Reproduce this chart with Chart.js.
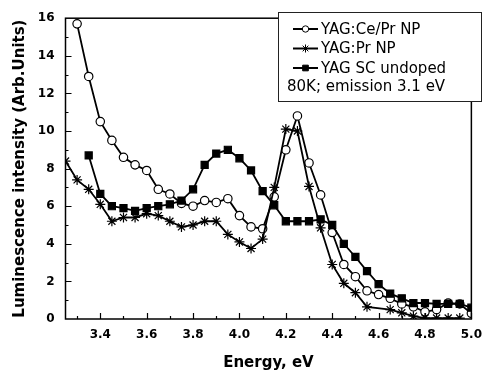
<!DOCTYPE html>
<html>
<head>
<meta charset="utf-8">
<script src="https://cdn.jsdelivr.net/npm/chart.js@4.4.0/dist/chart.umd.min.js"></script>
<style>
  html, body { margin: 0; padding: 0; background: #fff; }
  #wrap { width: 491px; height: 376px; }
</style>
</head>
<body>
<div id="wrap"><canvas id="lumChart"></canvas></div>
<script>
// Excitation spectra, values
const energies = [3.25, 3.30, 3.35, 3.40, 3.45, 3.50, 3.55, 3.60, 3.65, 3.70, 3.75, 3.80,
                  3.85, 3.90, 3.95, 4.00, 4.05, 4.10, 4.15, 4.20, 4.25, 4.30, 4.35, 4.40,
                  4.45, 4.50, 4.55, 4.60, 4.65, 4.70, 4.75, 4.80, 4.85, 4.90, 4.95, 5.00];

const cePrNP = [null, 15.7, 12.9, 10.5, 9.5, 8.6, 8.2, 7.9, 6.9, 6.65, 6.15, 6.0,
                6.3, 6.2, 6.4, 5.5, 4.9, 4.8, 6.5, 9.0, 10.8, 8.3, 6.6, 4.6,
                2.9, 2.25, 1.5, 1.3, 1.1, 0.8, 0.65, 0.38, 0.5, 0.85, 0.8, 0.3];

const prNP = [8.4, 7.4, 6.9, 6.1, 5.2, 5.4, 5.4, 5.6, 5.5, 5.2, 4.9, 5.0,
              5.2, 5.2, 4.5, 4.1, 3.75, 4.25, 7.0, 10.1, 10.0, 7.05, 4.85, 2.9,
              1.9, 1.4, 0.65, null, 0.5, 0.33, 0.15, 0.05, 0.05, 0.05, 0.05, null];

const scUndoped = [null, null, 8.7, 6.65, 6.0, 5.9, 5.75, 5.9, 6.0, 6.1, 6.3, 6.9,
                   8.2, 8.8, 9.0, 8.55, 7.9, 6.8, 6.05, 5.2, 5.2, 5.2, 5.3, 5.0,
                   4.0, 3.3, 2.55, 1.85, 1.35, 1.1, 0.85, 0.85, 0.8, 0.8, 0.8, 0.6];

const xTickValues = [3.4, 3.6, 3.8, 4.0, 4.2, 4.4, 4.6, 4.8, 5.0];
const seriesNames = ['YAG:Ce/Pr NP', 'YAG:Pr NP', 'YAG SC undoped'];
const legendNote = '80K; emission 3.1 eV';

const toPoints = vals => energies.map((e, i) => ({ x: e, y: vals[i] }));

Chart.defaults.font.family = 'DejaVu Sans';
Chart.defaults.color = '#000';

const markers = [
    { pointStyle: 'circle', radius: 4.2, fill: '#fff' },
    { pointStyle: 'star', radius: 5, fill: '#000' },
    { pointStyle: 'rect', radius: 5, fill: '#000' }
];

function makeDataset(label, vals, m) {
    return {
        label: label,
        data: toPoints(vals),
        borderColor: '#000',
        borderWidth: 1.8,
        pointStyle: m.pointStyle,
        pointRadius: m.radius,
        pointBackgroundColor: m.fill,
        pointBorderColor: '#000',
        pointBorderWidth: 1.2,
        spanGaps: true,
        tension: 0
    };
}

// box frame, inward ticks and the boxed legend
const framePlugin = {
    id: 'frame',
    afterDraw(chart) {
        const { ctx, chartArea: a, scales } = chart;
        const xs = scales.x, ys = scales.y;
        ctx.save();
        ctx.strokeStyle = '#000';
        ctx.lineWidth = 1.5;
        ctx.strokeRect(a.left, a.top, a.right - a.left, a.bottom - a.top);

        ctx.lineWidth = 1.2;
        ctx.beginPath();
        for (let k = 0; k <= 17; k++) {
            const v = 3.3 + k * 0.1;
            const major = k % 2 === 1;
            const px = Math.round(xs.getPixelForValue(v)) + 0.5;
            ctx.moveTo(px, a.bottom);
            ctx.lineTo(px, a.bottom - (major ? 6 : 3));
        }
        for (let v = 1; v < 16; v++) {
            const py = Math.round(ys.getPixelForValue(v)) + 0.5;
            ctx.moveTo(a.left, py);
            ctx.lineTo(a.left + (v % 2 === 0 ? 6 : 3), py);
        }
        ctx.stroke();

        // legend box
        const bx = 278.5, by = 12.5, bw = 203, bh = 89;
        ctx.fillStyle = '#fff';
        ctx.fillRect(bx, by, bw, bh);
        ctx.lineWidth = 1;
        ctx.strokeStyle = '#222';
        ctx.strokeRect(bx, by, bw, bh);

        ctx.font = '15px "DejaVu Sans"';
        ctx.textBaseline = 'middle';
        ctx.textAlign = 'left';
        const rowY = [29, 48.5, 68];
        seriesNames.forEach((name, i) => {
            const y = rowY[i];
            ctx.strokeStyle = '#000';
            ctx.lineWidth = 2;
            ctx.beginPath();
            ctx.moveTo(293, y);
            ctx.lineTo(318, y);
            ctx.stroke();
            ctx.fillStyle = markers[i].fill;
            ctx.lineWidth = 1;
            Chart.helpers.drawPoint(ctx, {
                pointStyle: markers[i].pointStyle,
                radius: i === 0 ? 3.2 : 4,
                rotation: 0,
                borderWidth: 1
            }, 305.5, y);
            ctx.fillStyle = '#000';
            ctx.fillText(name, 321, y + 1);
        });
        ctx.fillStyle = '#000';
        ctx.fillText(legendNote, 287, 87.5);
        ctx.restore();
    }
};

const chart = new Chart(document.getElementById('lumChart'), {
    type: 'line',
    data: {
        datasets: [
            makeDataset(seriesNames[2], scUndoped, markers[2]),
            makeDataset(seriesNames[1], prNP, markers[1]),
            makeDataset(seriesNames[0], cePrNP, markers[0])
        ]
    },
    options: {
        responsive: true,
        maintainAspectRatio: false,
        animation: false,
        layout: { padding: { top: 15, right: 11, left: 0, bottom: 0 } },
        plugins: {
            legend: { display: false },
            tooltip: { enabled: false }
        },
        scales: {
            x: {
                type: 'linear',
                min: 3.25,
                max: 5.0,
                afterBuildTicks: s => { s.ticks = xTickValues.map(v => ({ value: v })); },
                afterFit: s => { s.height = 57; },
                grid: { display: false, drawTicks: false },
                border: { display: false },
                ticks: {
                    padding: 9,
                    maxRotation: 0,
                    font: { size: 12, weight: 'bold' },
                    callback: v => v.toFixed(1)
                },
                title: {
                    display: true,
                    text: 'Energy, eV',
                    font: { size: 15, weight: 'bold' },
                    padding: { top: 0, bottom: 4 }
                }
            },
            y: {
                min: 0,
                max: 16,
                afterFit: s => { s.width = 65.5; },
                grid: { display: false, drawTicks: false },
                border: { display: false },
                ticks: {
                    stepSize: 2,
                    padding: 11,
                    font: { size: 12, weight: 'bold' }
                },
                title: {
                    display: true,
                    text: 'Luminescence intensity (Arb.Units)',
                    font: { size: 15, weight: 'bold' },
                    padding: { top: 11, bottom: 0 }
                }
            }
        }
    },
    plugins: [framePlugin]
});
</script>
</body>
</html>
